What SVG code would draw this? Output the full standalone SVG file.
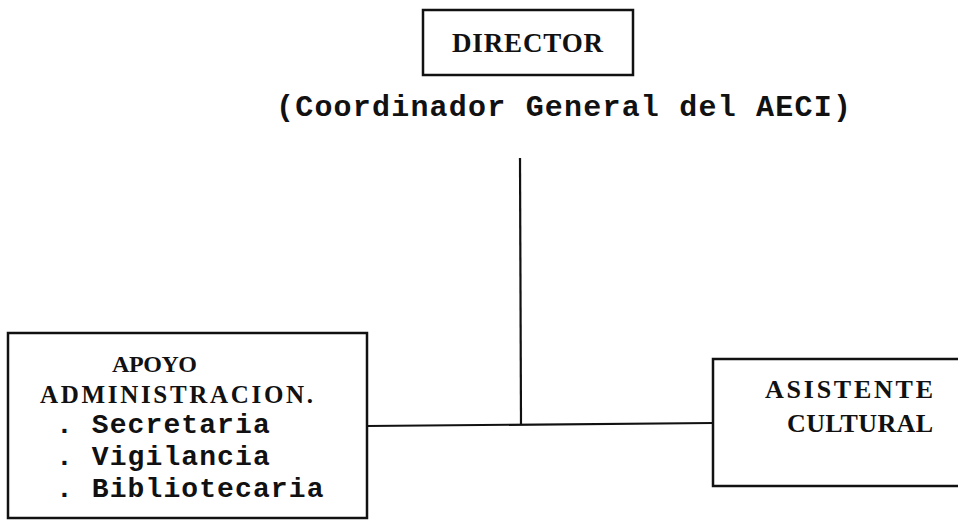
<svg xmlns="http://www.w3.org/2000/svg" width="958" height="522" viewBox="0 0 958 522">
<style>
.box{fill:none;stroke:#111;stroke-width:2.5}
.ln{fill:none;stroke:#111;stroke-width:2.2}
.serif{font-family:"Liberation Serif","Times New Roman",serif;font-weight:bold;fill:#111}
.mono{font-family:"Liberation Mono","Courier New",monospace;font-weight:bold;fill:#111}
</style>
<rect width="958" height="522" fill="#fff"/>
<g id="director">
<rect class="box" x="423" y="10" width="210" height="65"/>
<text class="serif" x="452" y="52" font-size="27" textLength="151" lengthAdjust="spacing">DIRECTOR</text>
<text class="mono" x="276" y="116" font-size="30" letter-spacing="1.2">(Coordinador General del AECI)</text>
</g>
<g id="apoyo">
<rect class="box" x="8" y="333" width="359" height="185"/>
<text class="serif" x="112" y="372" font-size="24" textLength="85" lengthAdjust="spacing">APOYO</text>
<text class="serif" x="40" y="403" font-size="25" textLength="273" lengthAdjust="spacing">ADMINISTRACION.</text>
<text class="mono" x="56" y="433" font-size="28" letter-spacing="1.1">. Secretaria</text>
<text class="mono" x="56" y="465" font-size="28" letter-spacing="1.1">. Vigilancia</text>
<text class="mono" x="56" y="497" font-size="28" letter-spacing="1.1">. Bibliotecaria</text>
</g>
<g id="asistente">
<rect class="box" x="713" y="359" width="260" height="127"/>
<text class="serif" x="765" y="398" font-size="26" textLength="168" lengthAdjust="spacing">ASISTENTE</text>
<text class="serif" x="787" y="432" font-size="26" textLength="146" lengthAdjust="spacing">CULTURAL</text>
</g>
<g id="connectors">
<line class="ln" x1="520" y1="158" x2="521" y2="425"/>
<line class="ln" x1="367" y1="426" x2="713" y2="423"/>
</g>
</svg>
